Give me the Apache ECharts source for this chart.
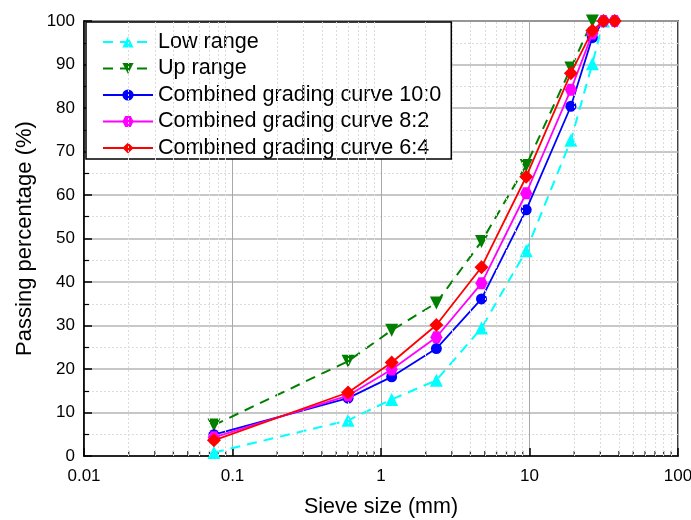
<!DOCTYPE html>
<html>
<head>
<meta charset="utf-8">
<script src="https://cdn.jsdelivr.net/npm/echarts@6/dist/echarts.min.js"></script>
<style>
  html, body { margin: 0; padding: 0; background: #fff; overflow: hidden; }
  #chart { width: 691px; height: 520px; }
</style>
</head>
<body>
<div id="chart"></div>
<script>
// Sieve sizes (mm) and passing percentages (%)
const sieveSizes = [0.075, 0.6, 1.18, 2.36, 4.75, 9.5, 19, 26.5, 31.5, 37.5];
const lowRange = [0.8, 8.2, 13.0, 17.4, 29.4, 47.2, 72.6, 90.2, 100];
const upRange = [7.1, 21.8, 28.9, 35.2, 49.3, 66.8, 89.2, 100];
const curve10to0 = [4.9, 13.3, 18.2, 24.7, 36.1, 56.6, 80.4, 96.2, 100, 100];
const curve8to2 = [4.3, 13.9, 19.9, 27.3, 39.7, 60.4, 84.2, 97.1, 100, 100];
const curve6to4 = [3.6, 14.6, 21.5, 30.1, 43.4, 64.2, 88.0, 97.8, 100, 100];

const seriesNames = [
  'Low range',
  'Up range',
  'Combined grading curve 10:0',
  'Combined grading curve 8:2',
  'Combined grading curve 6:4'
];

// Minor grid positions on the logarithmic axis (2..9 within each decade)
const minorSizes = [];
[0.01, 0.1, 1, 10].forEach(function (d) {
  for (let k = 2; k <= 9; k++) minorSizes.push(+(d * k).toPrecision(3));
});

function pairs(values) {
  return values.map(function (v, i) { return [sieveSizes[i], v]; });
}

const FONT = '"Liberation Sans", Arial, sans-serif';
const hexagon = 'path://M-1,0 L-0.5,-0.866 L0.5,-0.866 L1,0 L0.5,0.866 L-0.5,0.866 Z';

const chart = echarts.init(document.getElementById('chart'), null, { renderer: 'canvas', width: 691, height: 520 });

chart.setOption({
  animation: false,
  backgroundColor: '#fff',
  textStyle: { fontFamily: FONT },
  grid: {
    left: 84, right: 13, top: 21, bottom: 64,
    outerBoundsMode: 'none',
    containLabel: false,
    show: true, borderColor: '#000', borderWidth: 1.5, backgroundColor: 'transparent'
  },
  legend: {
    orient: 'vertical',
    left: 86, top: 22,
    padding: [9, 10, 0, 16],
    itemWidth: 50, itemHeight: 14, itemGap: 4.5,
    backgroundColor: '#fff',
    borderColor: '#000', borderWidth: 1.5,
    textStyle: { fontSize: 21.6, fontFamily: FONT, color: '#000' },
    data: seriesNames
  },
  xAxis: {
    type: 'log', logBase: 10, min: 0.01, max: 100,
    name: 'Sieve size (mm)',
    nameLocation: 'middle', nameGap: 40,
    nameTextStyle: { fontSize: 21.5, color: '#000', fontFamily: FONT },
    axisLine: { show: true, lineStyle: { color: '#000', width: 1.5 } },
    axisTick: { show: true, inside: true, length: 8, lineStyle: { color: '#000', width: 1.5 } },
    axisLabel: {
      fontSize: 17, color: '#000', margin: 12, fontFamily: FONT,
      formatter: function (v) { return String(+v.toPrecision(3)); }
    },
    splitLine: { show: true, lineStyle: { color: '#a8a8a8', width: 1 } }
  },
  yAxis: {
    type: 'value', min: 0, max: 100, interval: 10,
    name: 'Passing percentage (%)',
    nameLocation: 'middle', nameGap: 42,
    nameTextStyle: { fontSize: 22, color: '#000', fontFamily: FONT },
    axisLine: { show: true, lineStyle: { color: '#000', width: 1.5 } },
    axisTick: { show: true, inside: true, length: 8, lineStyle: { color: '#000', width: 1.5 } },
    minorTick: { show: true, splitNumber: 2, length: 5, lineStyle: { color: '#000', width: 1.2 } },
    axisLabel: { fontSize: 17, color: '#000', margin: 9, fontFamily: FONT },
    splitLine: { show: true, lineStyle: { color: '#b4b4b4', width: 1.5 } },
    minorSplitLine: { show: true, lineStyle: { color: '#dcdcdc', width: 1, type: [2, 2] } }
  },
  series: [
    {
      // minor vertical grid lines and inward minor ticks of the log axis
      type: 'scatter',
      silent: true,
      data: minorSizes.map(function (s) { return [s, 0]; }),
      symbol: 'rect',
      symbolSize: [1.3, 5],
      symbolOffset: [0, -2.5],
      itemStyle: { color: '#000' },
      z: 1,
      markLine: {
        silent: true,
        symbol: 'none',
        label: { show: false },
        lineStyle: { color: '#dcdcdc', width: 1, type: [2, 2] },
        data: minorSizes.map(function (s) { return { xAxis: s }; })
      }
    },
    {
      name: seriesNames[0],
      type: 'line',
      data: pairs(lowRange),
      symbol: 'triangle', symbolSize: 13,
      lineStyle: { color: '#00ffff', width: 2, type: [10, 7] },
      itemStyle: { color: '#00ffff' },
      z: 3
    },
    {
      name: seriesNames[1],
      type: 'line',
      data: pairs(upRange),
      symbol: 'triangle', symbolRotate: 180, symbolSize: 13,
      lineStyle: { color: '#007f00', width: 2, type: [10, 7] },
      itemStyle: { color: '#007f00' },
      z: 3
    },
    {
      name: seriesNames[2],
      type: 'line',
      data: pairs(curve10to0),
      symbol: 'circle', symbolSize: 11,
      lineStyle: { color: '#0000ff', width: 1.8 },
      itemStyle: { color: '#0000ff' },
      z: 4
    },
    {
      name: seriesNames[3],
      type: 'line',
      data: pairs(curve8to2),
      symbol: hexagon, symbolSize: 12,
      lineStyle: { color: '#ff00ff', width: 1.8 },
      itemStyle: { color: '#ff00ff' },
      z: 5
    },
    {
      name: seriesNames[4],
      type: 'line',
      data: pairs(curve6to4),
      symbol: 'diamond', symbolSize: 14,
      lineStyle: { color: '#ff0000', width: 1.8 },
      itemStyle: { color: '#ff0000' },
      z: 6
    }
  ]
});
</script>
</body>
</html>
